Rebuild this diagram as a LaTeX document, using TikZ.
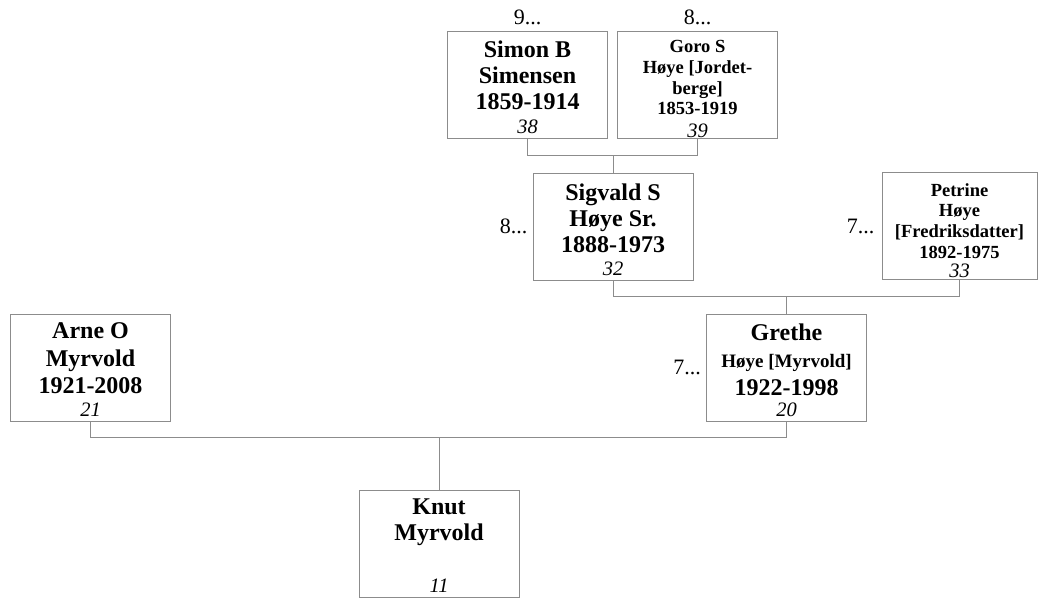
\documentclass[tikz,border=0pt]{standalone}
\usepackage{fontspec}
\setmainfont{Liberation Serif}
\usetikzlibrary{positioning}

\begin{document}
\begin{tikzpicture}[x=1pt,y=1pt,
  person/.style={draw=black!45, line width=0.9pt, minimum width=160pt, minimum height=107pt, inner sep=0pt},
  bigname/.style={inner sep=0pt, align=center, font=\fontsize{24}{26}\selectfont\bfseries},
  widename/.style={inner sep=0pt, align=center, font=\fontsize{24}{27.5}\selectfont\bfseries},
  smallname/.style={inner sep=0pt, align=center, font=\fontsize{18.5}{20.8}\selectfont\bfseries},
  refno/.style={inner sep=0pt, font=\fontsize{20.5}{22}\selectfont\itshape},
  more/.style={inner sep=0pt, font=\fontsize{22}{24}\selectfont},
  link/.style={draw=black!45, line width=0.9pt}]
\useasboundingbox (0,0) rectangle (1038,599);
\node [person] (simon) at (527.5,514) {};
\node [person] (goro) at (697.5,514) {};
\node [person] (sigvald) at (613,372.5) {};
\node [person, minimum width=155pt] (petrine) at (959.5,373) {};
\node [person] (arne) at (90.5,231.5) {};
\node [person] (grethe) at (786.5,231.5) {};
\node [person] (knut) at (439,55.5) {};
\node [bigname, below=10pt of simon.north] (simonname) {Simon B\\Simensen\\1859-1914};
\node [smallname, below=9pt of goro.north] (goroname) {Goro S\\Høye [Jordet-\\berge]\\1853-1919};
\node [bigname, below=11pt of sigvald.north] (sigvaldname) {Sigvald S\\Høye Sr.\\1888-1973};
\node [smallname, below=11pt of petrine.north] (petrinename) {Petrine\\Høye\\{[}Fredriksdatter{]}\\1892-1975};
\node [widename, below=9pt of arne.north] (arnename) {Arne O\\Myrvold\\1921-2008};
\node [widename, below=10pt of grethe.north] (grethename) {Grethe\\{\fontsize{19}{27.5}\selectfont Høye [Myrvold]}\\1922-1998};
\node [bigname, below=9pt of knut.north] (knutname) {Knut\\Myrvold};
\node [refno, above=5pt of simon.south] (simonno) {38};
\node [refno, above=1pt of goro.south] (gorono) {39};
\node [refno, above=5pt of sigvald.south] (sigvaldno) {32};
\node [refno, above=2pt of petrine.south] (petrineno) {33};
\node [refno, above=5pt of arne.south] (arneno) {21};
\node [refno, above=5pt of grethe.south] (gretheno) {20};
\node [refno, above=5pt of knut.south] (knutno) {11};
\node [more, above=6pt of simon.north] (simonmore) {9...};
\node [more, above=6pt of goro.north] (goromore) {8...};
\node [more, left=5pt of sigvald.west] (sigvaldmore) {8...};
\node [more, left=7pt of petrine.west] (petrinemore) {7...};
\node [more, left=5pt of grethe.west] (grethemore) {7...};
\draw [link] (simon.south) -- ++(0,-17) coordinate (simonjoin) -| (goro.south);
\draw [link] (sigvald.north) -- (sigvald.north |- simonjoin);
\draw [link] (sigvald.south) -- ++(0,-16) coordinate (sigvaldjoin) -| (petrine.south);
\draw [link] (grethe.north) -- (grethe.north |- sigvaldjoin);
\draw [link] (arne.south) -- ++(0,-16) coordinate (arnejoin) -| (grethe.south);
\draw [link] (knut.north) -- (knut.north |- arnejoin);
\end{tikzpicture}
\end{document}
